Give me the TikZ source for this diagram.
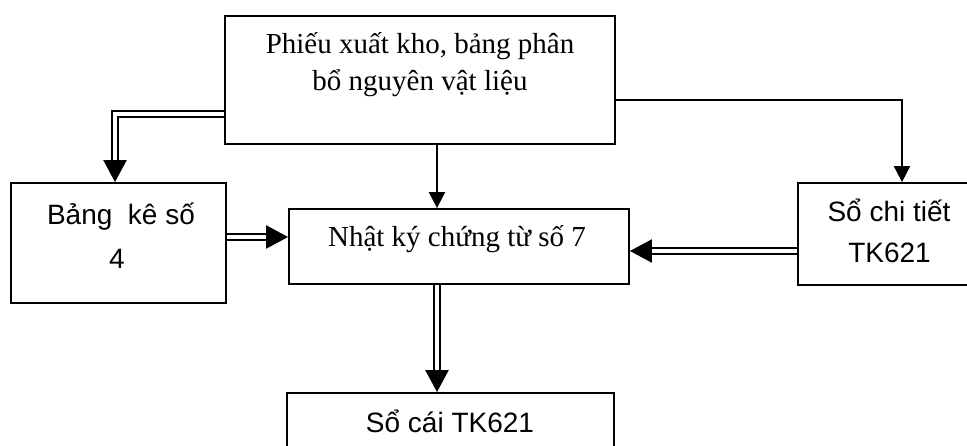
\documentclass[tikz,border=0pt]{standalone}
\usepackage{fontspec}
\setmainfont{Liberation Serif}
\newfontfamily\sansfam{Liberation Sans}
\usetikzlibrary{arrows.meta}

\begin{document}
\begin{tikzpicture}[x=1pt,y=-1pt,
  box/.style={draw,line width=1.8pt,rectangle,inner sep=0pt},
  serifl/.style={anchor=base,inner sep=0pt,font=\fontsize{29}{34}\selectfont},
  sansl/.style={anchor=base,inner sep=0pt,font=\sansfam\fontsize{28}{33}\selectfont},
  single/.style={line width=2pt,-{Triangle[length=16pt,width=16pt]}},
  dbl/.style={line width=2.2pt,double,double distance=4.2pt,
              -{Triangle[length=22pt,width=23pt]}}]
  \useasboundingbox (0,0) rectangle (967,446);
  \clip (0,0) rectangle (967,446);

  % boxes
  \node[box,minimum width=390pt,minimum height=128pt] (top) at (420,80) {};
  \node[box,minimum width=215pt,minimum height=120pt] (left) at (118.5,243) {};
  \node[box,minimum width=340pt,minimum height=75pt] (mid) at (459,246.5) {};
  \node[box,minimum width=182pt,minimum height=102pt] (right) at (889,234) {};
  \node[box,minimum width=327pt,minimum height=87pt] (bottom) at (450.5,436.5) {};

  % labels
  \node[serifl] (t1) at (420,54) {Phiếu xuất kho, bảng phân};
  \node[serifl] (t2) at (420,91) {bổ nguyên vật liệu};
  \node[serifl] (m1) at (457,247) {Nhật ký chứng từ số 7};
  \node[sansl] (l1) at (121,225) {Bảng\ \ kê số};
  \node[sansl] (l2) at (117,269) {4};
  \node[sansl] (r1) at (889,222) {Sổ chi tiết};
  \node[sansl] (r2) at (889.5,263) {TK621};
  \node[sansl] (b1) at (450,432) {Sổ cái TK621};

  % connector guide points
  \coordinate (kl) at (115,114);
  \coordinate (kc) at (437,0);
  \coordinate (kr) at (902,100);
  \coordinate (kml) at (0,237);
  \coordinate (kmr) at (0,251);

  % connectors
  \draw[dbl] (top.west |- kl) -| (left.north -| kl);
  \draw[single] (top.south -| kc) -- (mid.north -| kc);
  \draw[single] (top.east |- kr) -| (right.north -| kr);
  \draw[dbl] (left.east |- kml) -- (mid.west |- kml);
  \draw[dbl] (right.west |- kmr) -- (mid.east |- kmr);
  \draw[dbl] (mid.south -| kc) -- (bottom.north -| kc);
\end{tikzpicture}
\end{document}
